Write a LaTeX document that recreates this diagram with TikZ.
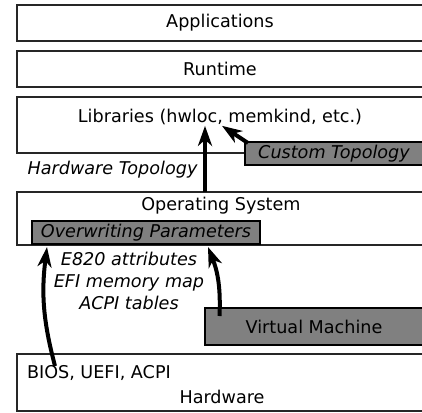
\documentclass[tikz,border=0pt]{standalone}
\usepackage{fontspec}
\setmainfont{DejaVu Sans}
\usetikzlibrary{arrows.meta, positioning}

\begin{document}
\begin{tikzpicture}[
    x=1pt, y=-1pt,
    every node/.style={font=\fontsize{17.6}{22}\selectfont, inner sep=0pt, outer sep=0pt},
    layer/.style={draw=black!85, line width=1.3pt, fill=white, rectangle, minimum width=406pt},
    patch/.style={draw=black, line width=1.3pt, fill=gray, rectangle},
    note/.style={font=\fontsize{17.6}{22}\selectfont\itshape},
    arrow/.style={line width=4pt, -{Stealth[length=20pt, width=14pt, inset=6pt]}}
]
\useasboundingbox (0,0) rectangle (422,412);
\clip (0,0) rectangle (422,412);

\node (apps) [layer, minimum height=36pt] at (220,23) {Applications};
\node (runtime) [layer, minimum height=36pt, below=10pt of apps] {Runtime};
\node (libs) [layer, minimum height=56pt, below=10pt of runtime] {};
\node (libstext) at (220,117) {Libraries (hwloc, memkind, etc.)};
\node (custom) [patch, note, minimum width=178pt, minimum height=23pt] at (334,153.5) {Custom Topology};
\node (hwtopo) [note] at (112.5,170) {Hardware Topology};

\node (os) [layer, minimum height=53pt, below=39pt of libs] {};
\node (ostext) at (221,206) {Operating System};
\node (overwrite) [patch, note, minimum width=228pt, minimum height=23pt] at (146,232.5) {Overwriting Parameters};
\node (tables) [note, align=center] at (129,281) {E820 attributes\\EFI memory map\\ACPI tables};

\node (vm) [patch, minimum width=218pt, minimum height=37pt] at (314,326.5) {Virtual Machine};
\node (hw) [layer, minimum height=57pt, below=109pt of os] {};
\node (bios) [anchor=west] at (27,373) {BIOS, UEFI, ACPI};
\node (hwtext) at (222,397) {Hardware};

\draw [arrow] ([xshift=-15pt]os.north) -- ([xshift=-15pt,yshift=-1pt]libstext.south);
\draw [arrow] ([xshift=3pt,yshift=-1pt]custom.north west) -- ([xshift=2pt,yshift=-1pt]libstext.south);
\draw [arrow] ([xshift=-165pt,yshift=-12pt]hw.north) to[bend left=11] ([xshift=15pt,yshift=-3pt]overwrite.south west);
\draw [arrow] ([xshift=14.5pt,yshift=-8pt]vm.north west) to[bend right=12] ([xshift=-12pt,yshift=-2pt]os.south);

\end{tikzpicture}
\end{document}
